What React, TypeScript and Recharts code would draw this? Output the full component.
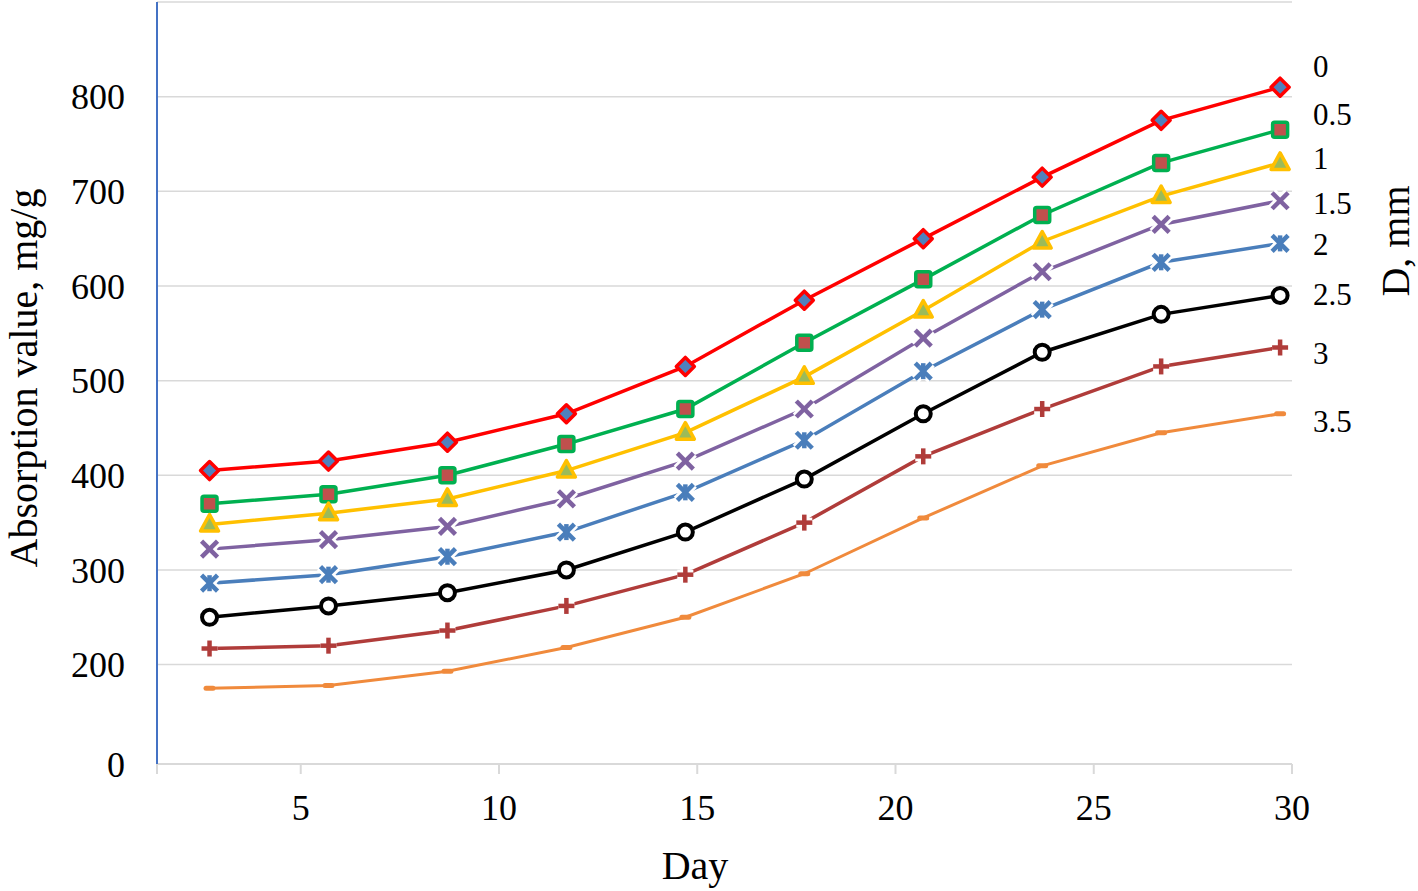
import { LineChart, Line, XAxis, YAxis, CartesianGrid, LabelList } from "recharts";

// sampling days and absorption per D, mm
const days = [2.7, 5.7, 8.7, 11.7, 14.7, 17.7, 20.7, 23.7, 26.7, 29.7];
const d00 = [405, 415, 435, 465, 515, 585, 650, 715, 775, 810];
const d05 = [370, 380, 400, 433, 470, 540, 607, 675, 730, 765];
const d10 = [348, 360, 375, 405, 445, 504, 574, 647, 695, 730];
const d15 = [322, 332, 346, 375, 415, 470, 545, 615, 665, 690];
const d20 = [286, 295, 314, 340, 382, 437, 510, 575, 625, 645];
const d25 = [250, 262, 276, 300, 340, 396, 465, 530, 570, 590];
const d30 = [217, 220, 236, 262, 295, 350, 420, 470, 515, 535];
const d35 = [175, 178, 193, 218, 250, 296, 355, 410, 445, 465];

const seriesNames = ["0", "0.5", "1", "1.5", "2", "2.5", "3", "3.5"];
const xTicks = [1.375, 5, 10, 15, 20, 25, 30];
// the reference axis is broken: the bottom is labelled 0 right under 200
const yTicks = [95, 200, 300, 400, 500, 600, 700, 800, 900];

const FONT = "'Liberation Serif', 'Times New Roman', serif";

const SERIES = [
  { key: "s0", values: d00, color: "#FF0000", marker: "diamond", labelDy: -21 },
  { key: "s1", values: d05, color: "#00B050", marker: "square", labelDy: -16 },
  { key: "s2", values: d10, color: "#FFC000", marker: "triangle", labelDy: -5 },
  { key: "s3", values: d15, color: "#7F62A1", marker: "x", labelDy: 2 },
  { key: "s4", values: d20, color: "#4A7EBB", marker: "star", labelDy: 1 },
  { key: "s5", values: d25, color: "#000000", marker: "circle", labelDy: -1 },
  { key: "s6", values: d30, color: "#B03C3A", marker: "plus", labelDy: 6 },
  { key: "s7", values: d35, color: "#F08A3C", marker: "dash", labelDy: 7 },
];

const rows = days.map((day, i) => {
  const row: Record<string, number> = { day };
  SERIES.forEach((s) => (row[s.key] = s.values[i]));
  return row;
});

function Marker({ cx, cy, kind, color }: { cx: number; cy: number; kind: string; color: string }) {
  if (cx == null || cy == null) return null;
  switch (kind) {
    case "diamond":
      return (
        <path
          d={`M${cx},${cy - 9} L${cx + 9},${cy} L${cx},${cy + 9} L${cx - 9},${cy} Z`}
          fill="#4F81BD"
          stroke={color}
          strokeWidth={3.5}
          strokeLinejoin="round"
        />
      );
    case "square":
      return (
        <rect x={cx - 7.5} y={cy - 7.5} width={15} height={15} rx={2} fill="#C0504D" stroke={color} strokeWidth={3.5} />
      );
    case "triangle":
      return (
        <path
          d={`M${cx},${cy - 10} L${cx + 9},${cy + 6.5} L${cx - 9},${cy + 6.5} Z`}
          fill="#9BBB59"
          stroke={color}
          strokeWidth={3.5}
          strokeLinejoin="round"
        />
      );
    case "circle":
      return <circle cx={cx} cy={cy} r={7.5} fill="#fff" stroke={color} strokeWidth={4} />;
    case "x":
    case "star":
    case "plus": {
      const r = 8;
      const segs =
        kind === "plus"
          ? [
              [-r, 0, r, 0],
              [0, -r, 0, r],
            ]
          : [
              [-r, -r, r, r],
              [-r, r, r, -r],
              ...(kind === "star" ? [[0, -r, 0, r]] : []),
            ];
      return (
        <g>
          {segs.map((s, i) => (
            <line key={`w${i}`} x1={cx + s[0]} y1={cy + s[1]} x2={cx + s[2]} y2={cy + s[3]} stroke="#fff" strokeWidth={10} />
          ))}
          {segs.map((s, i) => (
            <line key={`c${i}`} x1={cx + s[0]} y1={cy + s[1]} x2={cx + s[2]} y2={cy + s[3]} stroke={color} strokeWidth={4.5} />
          ))}
        </g>
      );
    }
    case "dash":
      return <rect x={cx - 6} y={cy - 2.5} width={12} height={5} rx={2.5} fill={color} />;
    default:
      return null;
  }
}

const endLabel = (text: string, dy: number) => (props: any) => {
  const { x, y, index } = props;
  if (index !== days.length - 1) return null;
  return (
    <text x={x + 33} y={y + dy} dy="0.35em" textAnchor="start" fontFamily={FONT} fontSize={31} fill="#000">
      {text}
    </text>
  );
};

export default function App() {
  return (
    <div style={{ position: "absolute", left: 0, top: 0, width: 1418, height: 891, background: "#fff" }}>
      <LineChart width={1418} height={891} data={rows} margin={{ top: 2, right: 126, bottom: 0, left: 0 }}>
        <CartesianGrid vertical={false} stroke="#d9d9d9" strokeWidth={1.5} />
        <XAxis
          type="number"
          dataKey="day"
          domain={[1.375, 30]}
          ticks={xTicks}
          allowDataOverflow
          height={127}
          axisLine={{ stroke: "#d9d9d9", strokeWidth: 2 }}
          tickLine={{ stroke: "#d9d9d9", strokeWidth: 2 }}
          tickSize={10}
          tickMargin={20}
          tick={{ fontFamily: FONT, fontSize: 36, fill: "#000" }}
          tickFormatter={(v: number) => (v < 5 ? "" : String(v))}
        />
        <YAxis
          type="number"
          domain={[95, 900]}
          ticks={yTicks}
          allowDataOverflow
          width={157}
          axisLine={{ stroke: "#4472C4", strokeWidth: 2 }}
          tickLine={false}
          tickSize={0}
          tickMargin={32}
          tick={{ fontFamily: FONT, fontSize: 36, fill: "#000" }}
          tickFormatter={(v: number) => (v < 100 ? "0" : v > 850 ? "" : String(v))}
        />
        {SERIES.map((s, si) => (
          <Line
            key={s.key}
            dataKey={s.key}
            type="linear"
            stroke={s.color}
            strokeWidth={s.marker === "dash" ? 3 : 3.5}
            isAnimationActive={false}
            dot={(p: any) => <Marker key={`${s.key}-${p.index}`} cx={p.cx} cy={p.cy} kind={s.marker} color={s.color} />}
            activeDot={false}
          >
            <LabelList dataKey={s.key} content={endLabel(seriesNames[si], s.labelDy)} />
          </Line>
        ))}
      </LineChart>
      <svg
        width={1418}
        height={891}
        style={{ position: "absolute", left: 0, top: 0, pointerEvents: "none" }}
      >
        <text x={37} y={378} transform="rotate(-90 37 378)" textAnchor="middle" fontFamily={FONT} fontSize={40} fill="#000">
          Absorption value, mg/g
        </text>
        <text x={695} y={879} textAnchor="middle" fontFamily={FONT} fontSize={40} fill="#000">
          Day
        </text>
        <text x={1409} y={241} transform="rotate(-90 1409 241)" textAnchor="middle" fontFamily={FONT} fontSize={40} fill="#000">
          D, mm
        </text>
      </svg>
    </div>
  );
}
